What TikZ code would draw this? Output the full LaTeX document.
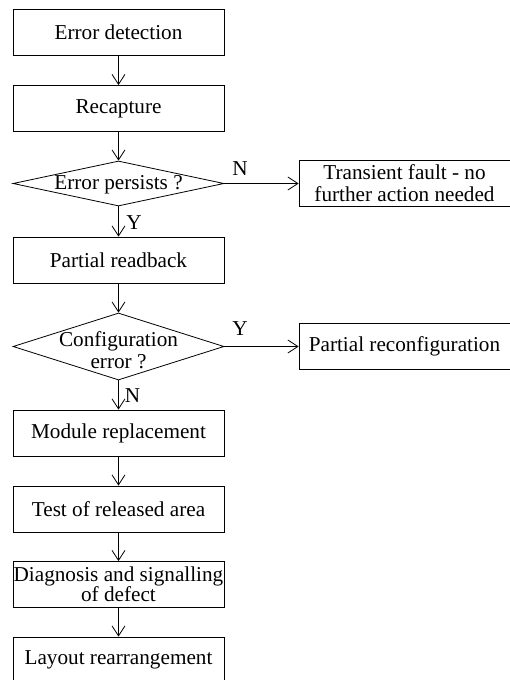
\documentclass[tikz,border=0pt]{standalone}
\usepackage{fontspec}
\setmainfont{Liberation Serif}
\usetikzlibrary{shapes.geometric,arrows.meta}
\begin{document}
\begin{tikzpicture}[x=1pt,y=-1pt,
  every node/.style={font=\fontsize{21.2}{21.8}\selectfont},
  box/.style={draw,line width=0.8pt,rectangle,minimum width=211pt,minimum height=46pt,inner sep=0pt,align=center},
  dec/.style={draw,line width=0.8pt,diamond,minimum width=211pt,inner sep=0pt},
  lbl/.style={inner sep=0pt},
  conn/.style={line width=0.8pt,-{Straight Barb[length=10pt,width=13pt,line width=0.8pt]}}]
\useasboundingbox (0,0) rectangle (510,680);
\clip (0,0) rectangle (510,680);
\fill[white] (0,0) rectangle (510,680);
\node[box] (ed) at (118.5,32) {Error detection};
\node[box] (rc) at (118.5,108.5) {Recapture};
\node[dec,minimum height=45pt] (d1) at (118.5,183.5) {};
\node[lbl] at ([yshift=-1pt]d1.center) {Error persists ?};
\node[box] (tf) at (404.5,183.5) {Transient fault - no\\further action needed};
\node[box] (pr) at (118.5,260) {Partial readback};
\node[dec,minimum height=67pt] (d2) at (118.5,346.5) {};
\node[lbl,align=center] at ([yshift=-4pt]d2.center) {Configuration\\error ?};
\node[box] (rcf) at (404.5,346.5) {Partial reconfiguration};
\node[box] (mr) at (118.5,433) {Module replacement};
\node[box] (ta) at (118.5,509) {Test of released area};
\node[box,font=\fontsize{21.2}{20}\selectfont] (dg) at (118.5,584.5) {Diagnosis and signalling\\of defect};
\node[box] (lr) at (118.5,660) {Layout rearrangement};
\node[lbl] (n1) at (240,169) {N};
\node[lbl] (y1) at (134,223) {Y};
\node[lbl] (y2) at (240,329) {Y};
\node[lbl] (n2) at (132.5,396) {N};
\draw[conn] (ed) -- (rc);
\draw[conn] (rc) -- (d1.north);
\draw[conn] (d1.east) -- (tf.west);
\draw[conn] (d1.south) -- (pr.north);
\draw[conn] (pr) -- (d2.north);
\draw[conn] (d2.east) -- (rcf.west);
\draw[conn] (d2.south) -- (mr.north);
\draw[conn] (mr) -- (ta);
\draw[conn] (ta) -- (dg);
\draw[conn] (dg) -- (lr);
\end{tikzpicture}
\end{document}
